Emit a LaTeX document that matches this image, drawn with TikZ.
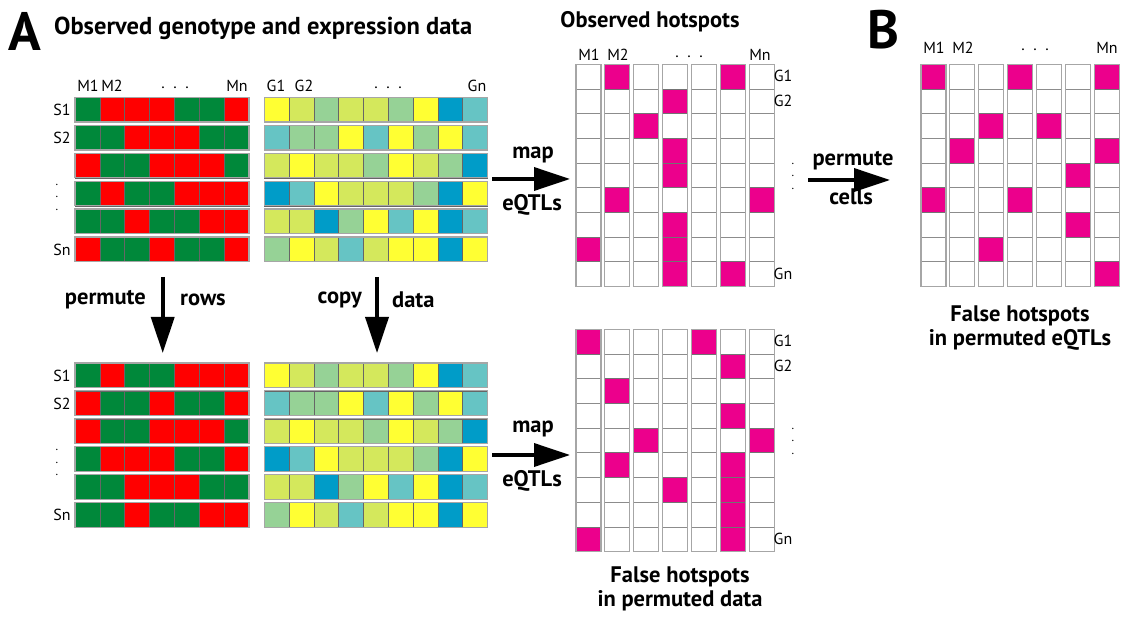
\documentclass[tikz,border=0pt]{standalone}
\usepackage{fontspec}
\setmainfont{PT Sans}
\usetikzlibrary{arrows.meta}

\definecolor{gG}{RGB}{0,136,58}
\definecolor{gR}{RGB}{255,0,0}
\definecolor{eY}{RGB}{255,255,51}
\definecolor{eL}{RGB}{212,232,92}
\definecolor{eM}{RGB}{150,210,150}
\definecolor{eT}{RGB}{102,196,196}
\definecolor{eB}{RGB}{0,156,200}
\definecolor{hotpink}{RGB}{236,0,140}

\tikzset{
  heading/.style={font=\bfseries\fontsize{22.5}{24}\selectfont, inner sep=0pt, align=center},
  panel/.style={font=\bfseries\fontsize{54}{54}\selectfont, inner sep=0pt},
  small/.style={font=\fontsize{16}{12}\selectfont, inner sep=0pt, align=center},
  vdots/.style={font=\fontsize{12}{12.5}\selectfont, inner sep=0pt, align=center},
  bigarrow/.style={line width=3.6pt, -{Triangle[length=36pt,width=23pt]}},
  cell/.style={draw=black!60, line width=0.5pt},
  strip/.style={draw=black!35, line width=1.2pt},
  hcell/.style={draw=black!45, line width=0.8pt},
  hot/.style={fill=hotpink, draw=black!55, line width=0.8pt},
}

\begin{document}
\begin{tikzpicture}[x=1pt,y=-1pt]
  \useasboundingbox (0,0) rectangle (1130,617);
  % panel letters and titles
  \node[panel] (pA) at (25,31) {A};
  \node[panel] (pB) at (883,30) {B};
  \node[heading,anchor=west,font=\bfseries\fontsize{24.5}{26}\selectfont] (tData) at (54,28) {Observed genotype and expression data};
  \node[heading] (tObs) at (650,22) {Observed hotspots};
  \node[heading] (tFalseD) at (680,589) {False hotspots\\in permuted data};
  \node[heading] (tFalseE) at (1020,328) {False hotspots\\in permuted eQTLs};

  % genotype, observed
  \foreach \rw [count=\i] in {{gG,gR,gR,gR,gG,gG,gR},{gG,gG,gR,gR,gR,gG,gG},
      {gR,gG,gG,gR,gR,gR,gG},{gG,gR,gG,gG,gR,gR,gR},
      {gG,gG,gR,gG,gG,gR,gR},{gR,gG,gG,gR,gG,gG,gR}}{
    \foreach \c [count=\j] in \rw
      \filldraw[fill=\c,cell] ({75+(\j-1)*24.86},{97.5+(\i-1)*27.9}) rectangle ++(24.86,24.6);
    \draw[strip] (75,{97.5+(\i-1)*27.9}) rectangle ++(174,24.6);
  }
  % genotype, rows permuted
  \begin{scope}[shift={(0,265.5)}]
    \foreach \rw [count=\i] in {{gG,gR,gG,gG,gR,gR,gR},{gR,gG,gG,gR,gG,gG,gR},
        {gR,gG,gG,gR,gR,gR,gG},{gG,gR,gR,gR,gG,gG,gR},
        {gG,gG,gR,gR,gR,gG,gG},{gG,gG,gR,gG,gG,gR,gR}}{
      \foreach \c [count=\j] in \rw
        \filldraw[fill=\c,cell] ({75+(\j-1)*24.86},{97.5+(\i-1)*27.9}) rectangle ++(24.86,24.6);
      \draw[strip] (75,{97.5+(\i-1)*27.9}) rectangle ++(174,24.6);
    }
  \end{scope}
  % expression, top and copy
  \foreach \dy in {0,265.5}{
    \foreach \rw [count=\i] in {{eY,eL,eM,eL,eL,eM,eY,eB,eT},{eT,eM,eM,eY,eT,eY,eM,eY,eT},
        {eL,eY,eL,eL,eM,eY,eL,eM,eB},{eB,eT,eY,eL,eL,eL,eM,eB,eY},
        {eL,eL,eB,eM,eY,eT,eY,eB,eT},{eM,eY,eL,eT,eL,eY,eY,eB,eY}}{
      \foreach \c [count=\j] in \rw
        \filldraw[fill=\c,cell] ({264.3+(\j-1)*24.78},{\dy+97.5+(\i-1)*27.9}) rectangle ++(24.78,24.6);
      \draw[strip] (264.3,{\dy+97.5+(\i-1)*27.9}) rectangle ++(223,24.6);
    }
  }

  % labels of the data tables
  \node[small] (m1) at (88,86) {M1};
  \node[small] (m2) at (112,86) {M2};
  \node[small] (mdots) at (175,88) {.\ \ .\ \ .};
  \node[small] (mn) at (237,86) {Mn};
  \node[small] (g1) at (276,86) {G1};
  \node[small] (g2) at (304,86) {G2};
  \node[small] (gdots) at (388,88) {.\ \ .\ \ .};
  \node[small] (gn) at (477,86) {Gn};
  \foreach \dy/\nm in {0/a,265.5/b}{
    \node[small] (s1\nm) at (62,{\dy+110}) {S1};
    \node[small] (s2\nm) at (62,{\dy+138}) {S2};
    \node[vdots] (sd\nm) at (57,{\dy+197}) {.\\.\\.};
    \node[small] (sn\nm) at (62,{\dy+249.5}) {Sn};
  }

  % hotspot tables
  \foreach \x/\y/\lst in {576/64.3/{1/0,5/0,3/1,2/2,3/3,3/4,1/5,6/5,3/6,0/7,3/7,3/8,5/8},
      576/329.3/{0/0,4/0,5/1,1/2,5/3,2/4,6/4,1/5,5/5,3/6,5/6,5/7,0/8,5/8},
      921/64.3/{0/0,3/0,6/0,2/2,4/2,1/3,6/3,5/4,0/5,3/5,5/6,2/7,6/8}}{
    \foreach \k in {0,...,6}{
      \foreach \r in {0,...,8}
        \draw[hcell] ({\x+\k*28.85},{\y+\r*24.7}) rectangle ++(25,24.7);
    }
    \foreach \k/\r in \lst
      \filldraw[hot] ({\x+\k*28.85},{\y+\r*24.7}) rectangle ++(25,24.7);
    \foreach \k in {0,...,6}
      \draw[strip] ({\x+\k*28.85},\y) rectangle ++(25,222.3);
  }
  \node[small] (hm1) at (589,55) {M1};
  \node[small] (hm2) at (618,55) {M2};
  \node[small] (hmdots) at (689,57) {.\ \ .\ \ .};
  \node[small] (hmn) at (760,55) {Mn};
  \node[small] (bm1) at (934,48) {M1};
  \node[small] (bm2) at (963,48) {M2};
  \node[small] (bmdots) at (1035,50) {.\ \ .\ \ .};
  \node[small] (bmn) at (1107,48) {Mn};
  \foreach \dy/\nm in {0/a,265/b}{
    \node[small] (hg1\nm) at (783,{\dy+76}) {G1};
    \node[small] (hg2\nm) at (783,{\dy+101}) {G2};
    \node[vdots] (hgd\nm) at (793,{\dy+176}) {.\\.\\.};
    \node[small] (hgn\nm) at (783,{\dy+274}) {Gn};
  }

  % arrows
  \coordinate (permA) at (162.7,277);
  \coordinate (permB) at (162.7,353);
  \coordinate (copyA) at (377,277);
  \coordinate (copyB) at (377,353);
  \coordinate (mapA) at (492,179);
  \coordinate (mapB) at (570,179);
  \coordinate (mapC) at (492,455);
  \coordinate (mapD) at (570,455);
  \coordinate (cellA) at (808,180);
  \coordinate (cellB) at (890,180);
  \draw[bigarrow] (permA) -- (permB);
  \draw[bigarrow] (copyA) -- (copyB);
  \draw[bigarrow] (mapA) -- (mapB);
  \draw[bigarrow] (mapC) -- (mapD);
  \draw[bigarrow] (cellA) -- (cellB);
  \node[heading,anchor=east] (lPerm) at (146,300) {permute};
  \node[heading,anchor=west] (lRows) at (180,300) {rows};
  \node[heading,anchor=east] (lCopy) at (362,300) {copy};
  \node[heading,anchor=west] (lData) at (392,300) {data};
  \node[heading] (lMap1) at (533,155) {map};
  \node[heading] (lEq1) at (532,205) {eQTLs};
  \node[heading] (lMap2) at (533,429) {map};
  \node[heading] (lEq2) at (532,481) {eQTLs};
  \node[heading] (lPermC) at (853,161) {permute};
  \node[heading] (lCells) at (851,197) {cells};
\end{tikzpicture}
\end{document}
